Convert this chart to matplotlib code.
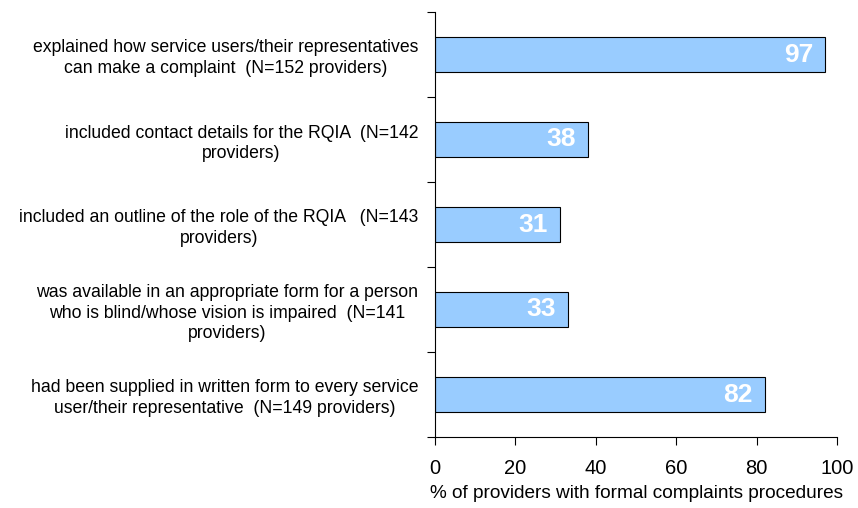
import matplotlib
matplotlib.use("Agg")
import matplotlib.pyplot as plt
import numpy as np

plt.rcParams['font.family'] = ['Liberation Sans', 'DejaVu Sans']

categories = [
    "explained how service users/their representatives\ncan make a complaint  (N=152 providers)",
    "included contact details for the RQIA  (N=142\nproviders)",
    "included an outline of the role of the RQIA   (N=143\nproviders)",
    "was available in an appropriate form for a person\nwho is blind/whose vision is impaired  (N=141\nproviders)",
    "had been supplied in written form to every service\nuser/their representative  (N=149 providers)",
]
values = [97, 38, 31, 33, 82]
xticks = [0, 20, 40, 60, 80, 100]
xlabel = "% of providers with formal complaints procedures"

fig = plt.figure(figsize=(8.58, 5.08), dpi=100)
ax = fig.add_axes([435/858, 1-437/508, 402/858, 425/508])

n = len(categories)
ypos = np.arange(n)[::-1]
bars = ax.barh(ypos, values, height=0.41, color='#99CCFF', edgecolor='black', linewidth=0.8)
for b, v in zip(bars, values):
    ax.text(b.get_width() - 3, b.get_y() + b.get_height()/2, f"{v}", ha='right', va='center',
            color='white', fontsize=19, fontweight='bold')

ax.set_xlim(0, 100)
ax.set_ylim(-0.5, n - 0.5)
ax.set_xticks(xticks)
ax.set_xticklabels([str(t) for t in xticks], fontsize=14.5)
ax.set_yticks(ypos)
ax.set_yticklabels(categories, fontsize=12.7, ha='right', multialignment='center',
                   linespacing=1.25)
ax.set_yticks(np.arange(-0.5, n, 1.0), minor=True)
ax.tick_params(axis='y', which='major', length=0, pad=12)
ax.tick_params(axis='y', which='minor', length=6, width=0.8, direction='out')
ax.tick_params(axis='x', length=6, width=0.8, direction='out', pad=10)
ax.set_xlabel(xlabel, fontsize=13.7, labelpad=5)
for s in ['top', 'right']:
    ax.spines[s].set_visible(False)
for s in ['left', 'bottom']:
    ax.spines[s].set_linewidth(0.8)

fig.savefig("out.png", dpi=100)
